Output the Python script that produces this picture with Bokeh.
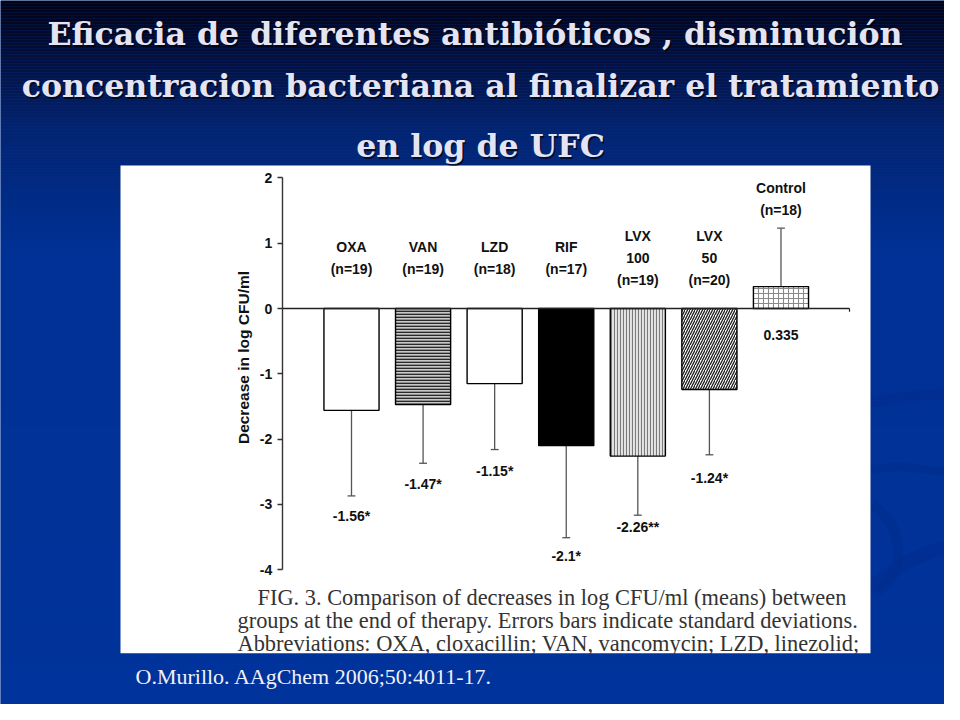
import math
import numpy as np
from bokeh.plotting import figure
from bokeh.models import Range1d, LinearAxis, FixedTicker, ColumnDataSource
from bokeh.core.properties import value
from bokeh.embed import file_html
from bokeh.resources import INLINE

# ---------------- data ----------------
groups = ["OXA", "VAN", "LZD", "RIF", "LVX\n100", "LVX\n50", "Control"]
n_animals = [19, 19, 18, 17, 19, 20, 18]
mean_decrease = [-1.56, -1.47, -1.15, -2.1, -2.26, -1.24, 0.335]
std_dev = [1.31, 0.90, 1.01, 1.41, 0.905, 1.00, 0.895]
value_labels = ["-1.56*", "-1.47*", "-1.15*", "-2.1*", "-2.26**", "-1.24*", "0.335"]
y_ticks = [-4, -3, -2, -1, 0, 1, 2]
y_tick_labels = ["-4", "-3", "-2", "-1", "0", "1", "2"]
y_label = "Decrease in log CFU/ml"

title_lines = [
    "Eficacia  de diferentes antibióticos , disminución",
    "concentracion bacteriana al finalizar el tratamiento",
    "en log de UFC",
]
caption_lines = [
    "FIG. 3. Comparison of decreases in log CFU/ml (means) between",
    "groups at the end of therapy. Errors bars indicate standard deviations.",
    "Abbreviations: OXA, cloxacillin; VAN, vancomycin; LZD, linezolid;",
]
footnote = "O.Murillo. AAgChem 2006;50:4011-17."

# ---------------- styles ----------------
bar_fill = ["white", "#c8c8c8", "white", "black", "#e4e4e4", "white", "white"]
bar_hatch = [" ", "-", " ", " ", "|", "/", "+"]
bar_hatch_color = ["black", "#2a2a2a", "black", "black", "#7a7a7a", "#1e1e1e", "#8a8a8a"]
bar_hatch_scale = [4, 3.0, 4, 4, 3, 5, 5]
bar_hatch_weight = [1, 1.7, 1, 1, 1.1, 1.3, 1.1]
group_label_offset = [-31, -31, -31, -31, -20, -20, -10]
value_label_offset = [20, 21, 21, 18, 12, 23, 26]

W, H = 944, 704
SANS = value("Liberation Sans")
SERIF = value("Liberation Serif")
TITLE_FONT = value("DejaVu Serif")

p = figure(width=W, height=H, output_backend="svg", toolbar_location=None,
           x_range=Range1d(0, W), y_range=Range1d(H, 0),
           x_axis_location=None, y_axis_location=None, min_border=0,
           outline_line_color=None, background_fill_color="#003399",
           border_fill_color="#003399")
p.grid.visible = False

# chart coordinate systems (category index / log CFU value)
X0, DX = 351.0, 71.58
Y0, DY = 308.0, 65.3
p.extra_x_ranges = {"idx": Range1d((0 - X0) / DX, (W - X0) / DX)}
p.extra_y_ranges = {"val": Range1d((Y0 - H) / DY, (Y0 - 0) / DY)}

# ---------------- background gradient ----------------
stops_y = [0, 50, 130, 250, 720]
stops_r = [2, 4, 4, 0, 0]
stops_g = [3, 14, 36, 49, 52]
stops_b = [20, 55, 112, 148, 156]
ys = np.arange(0, 720, 3)
cols = ["#%02x%02x%02x" % (int(np.interp(y + 1.5, stops_y, stops_r)),
                           int(np.interp(y + 1.5, stops_y, stops_g)),
                           int(np.interp(y + 1.5, stops_y, stops_b))) for y in ys]
p.quad(left=0, right=960, top=ys, bottom=ys + 3, fill_color=cols, line_color=None)

# subtle swooshes on the right
p.bezier(x0=[870, 870, 870], y0=[402, 590, 470],
         x1=[960, 960, 960], y1=[395, 545, 470],
         cx0=[910, 900, 905], cy0=[396, 560, 460],
         cx1=[940, 930, 935], cy1=[390, 548, 475],
         line_color="#012c8c", line_width=[10, 14, 8], line_alpha=0.55)
p.bezier(x0=[872], y0=[505], x1=[878], y1=[590], cx0=[905], cy0=[525], cx1=[905], cy1=[575],
         line_color="#012c8c", line_width=10, line_alpha=0.45)

# ---------------- white panel ----------------
p.quad(left=120, right=870, top=165, bottom=653, fill_color="white", line_color=None)

# ---------------- chart ----------------
idx = list(range(len(groups)))
err_end = [m - s if m < 0 else m + s for m, s in zip(mean_decrease, std_dev)]
label_anchor = [max(0.0, e) for e in err_end]
value_anchor = [e if m < 0 else 0.0 for m, e in zip(mean_decrease, err_end)]
src = ColumnDataSource(dict(
    x=idx, top=mean_decrease, end=err_end, fill=bar_fill, hatch=bar_hatch,
    hcol=bar_hatch_color, hscale=bar_hatch_scale, hweight=bar_hatch_weight,
    glabel=[f"{g}\n(n={n})" for g, n in zip(groups, n_animals)],
    ganchor=label_anchor, goff=group_label_offset,
    vlabel=value_labels, vanchor=value_anchor, voff=value_label_offset,
    capl=[i - 0.055 for i in idx], capr=[i + 0.055 for i in idx],
))

AXIS_IDX = (281.7 - X0) / DX
END_IDX = (849 - X0) / DX

# error bars
p.segment(x0="x", y0="top", x1="x", y1="end", source=src, line_color="#555555",
          line_width=1.3, x_range_name="idx", y_range_name="val")
p.segment(x0="capl", y0="end", x1="capr", y1="end", source=src, line_color="#555555",
          line_width=1.3, x_range_name="idx", y_range_name="val")

p.vbar(x="x", top="top", bottom=0, width=0.77, source=src, fill_color="fill",
       hatch_pattern="hatch", hatch_color="hcol", hatch_scale="hscale", hatch_weight="hweight",
       line_color="black", line_width=1.4, x_range_name="idx", y_range_name="val")

# zero line
p.segment(x0=[AXIS_IDX], y0=[0], x1=[END_IDX], y1=[0], line_color="#222222",
          line_width=1.3, x_range_name="idx", y_range_name="val")
p.segment(x0=[END_IDX], y0=[0], x1=[END_IDX], y1=[-0.05], line_color="#222222",
          line_width=1.2, x_range_name="idx", y_range_name="val")

# y axis
yax = LinearAxis(y_range_name="val", x_range_name="idx", fixed_location=AXIS_IDX,
                 ticker=FixedTicker(ticks=y_ticks), bounds=(min(y_ticks), max(y_ticks)))
yax.major_label_overrides = {t: s for t, s in zip(y_ticks, y_tick_labels)}
yax.axis_line_color = "#333333"
yax.axis_line_width = 1.4
yax.major_tick_line_color = "#333333"
yax.major_tick_line_width = 1.3
yax.major_tick_out = 5
yax.major_tick_in = 0
yax.minor_tick_line_color = None
yax.major_label_text_font = "Liberation Sans"
yax.major_label_text_font_style = "bold"
yax.major_label_text_font_size = "14px"
yax.major_label_text_color = "#111111"
yax.major_label_standoff = 5
p.add_layout(yax, "left")

p.text(x=[243], y=[357], text=[y_label], angle=math.pi / 2, text_align="center",
       text_baseline="middle", text_font=SANS, text_font_style="bold",
       text_font_size="15.5px", text_color="#111111")

# group labels
p.text(x="x", y="ganchor", text="glabel", source=src, y_offset="goff",
       text_align="center", text_baseline="bottom", text_font=SANS,
       text_font_style="bold", text_font_size="14px", text_line_height=1.4,
       text_color="#111111", x_range_name="idx", y_range_name="val")
# value labels
p.text(x="x", y="vanchor", text="vlabel", source=src, y_offset="voff",
       text_align="center", text_baseline="middle", text_font=SANS,
       text_font_style="bold", text_font_size="14px", text_color="#111111",
       x_range_name="idx", y_range_name="val")

# caption
p.text(x=[257, 237, 237], y=[597, 620, 643], text=caption_lines, text_font=SERIF,
       text_font_size="22.4px", text_color="#333333", text_baseline="middle")
# clip caption at panel bottom
cover = ys[ys >= 651]
p.quad(left=118, right=872, top=np.maximum(cover, 653), bottom=cover + 3,
       fill_color=[c for c, y in zip(cols, ys) if y >= 651], line_color=None)

# title with shadow
p.text(x=[481.5, 481.5, 481.5], y=[35, 87, 147], text=title_lines, text_align="center",
       text_baseline="middle", text_font=TITLE_FONT, text_font_style="bold",
       text_font_size="31.6px", text_color="black", text_alpha=0.6)
p.text(x=[480, 480, 480], y=[33, 85, 145], text=title_lines, text_align="center",
       text_baseline="middle", text_font=TITLE_FONT, text_font_style="bold",
       text_font_size="31.6px", text_color="#e4e4f2")

# footnote
p.text(x=[135], y=[676], text=[footnote], text_font=SERIF, text_font_size="22px",
       text_color="#f0f0f8", text_baseline="middle")

open("out.html", "w").write(file_html(p, INLINE))
